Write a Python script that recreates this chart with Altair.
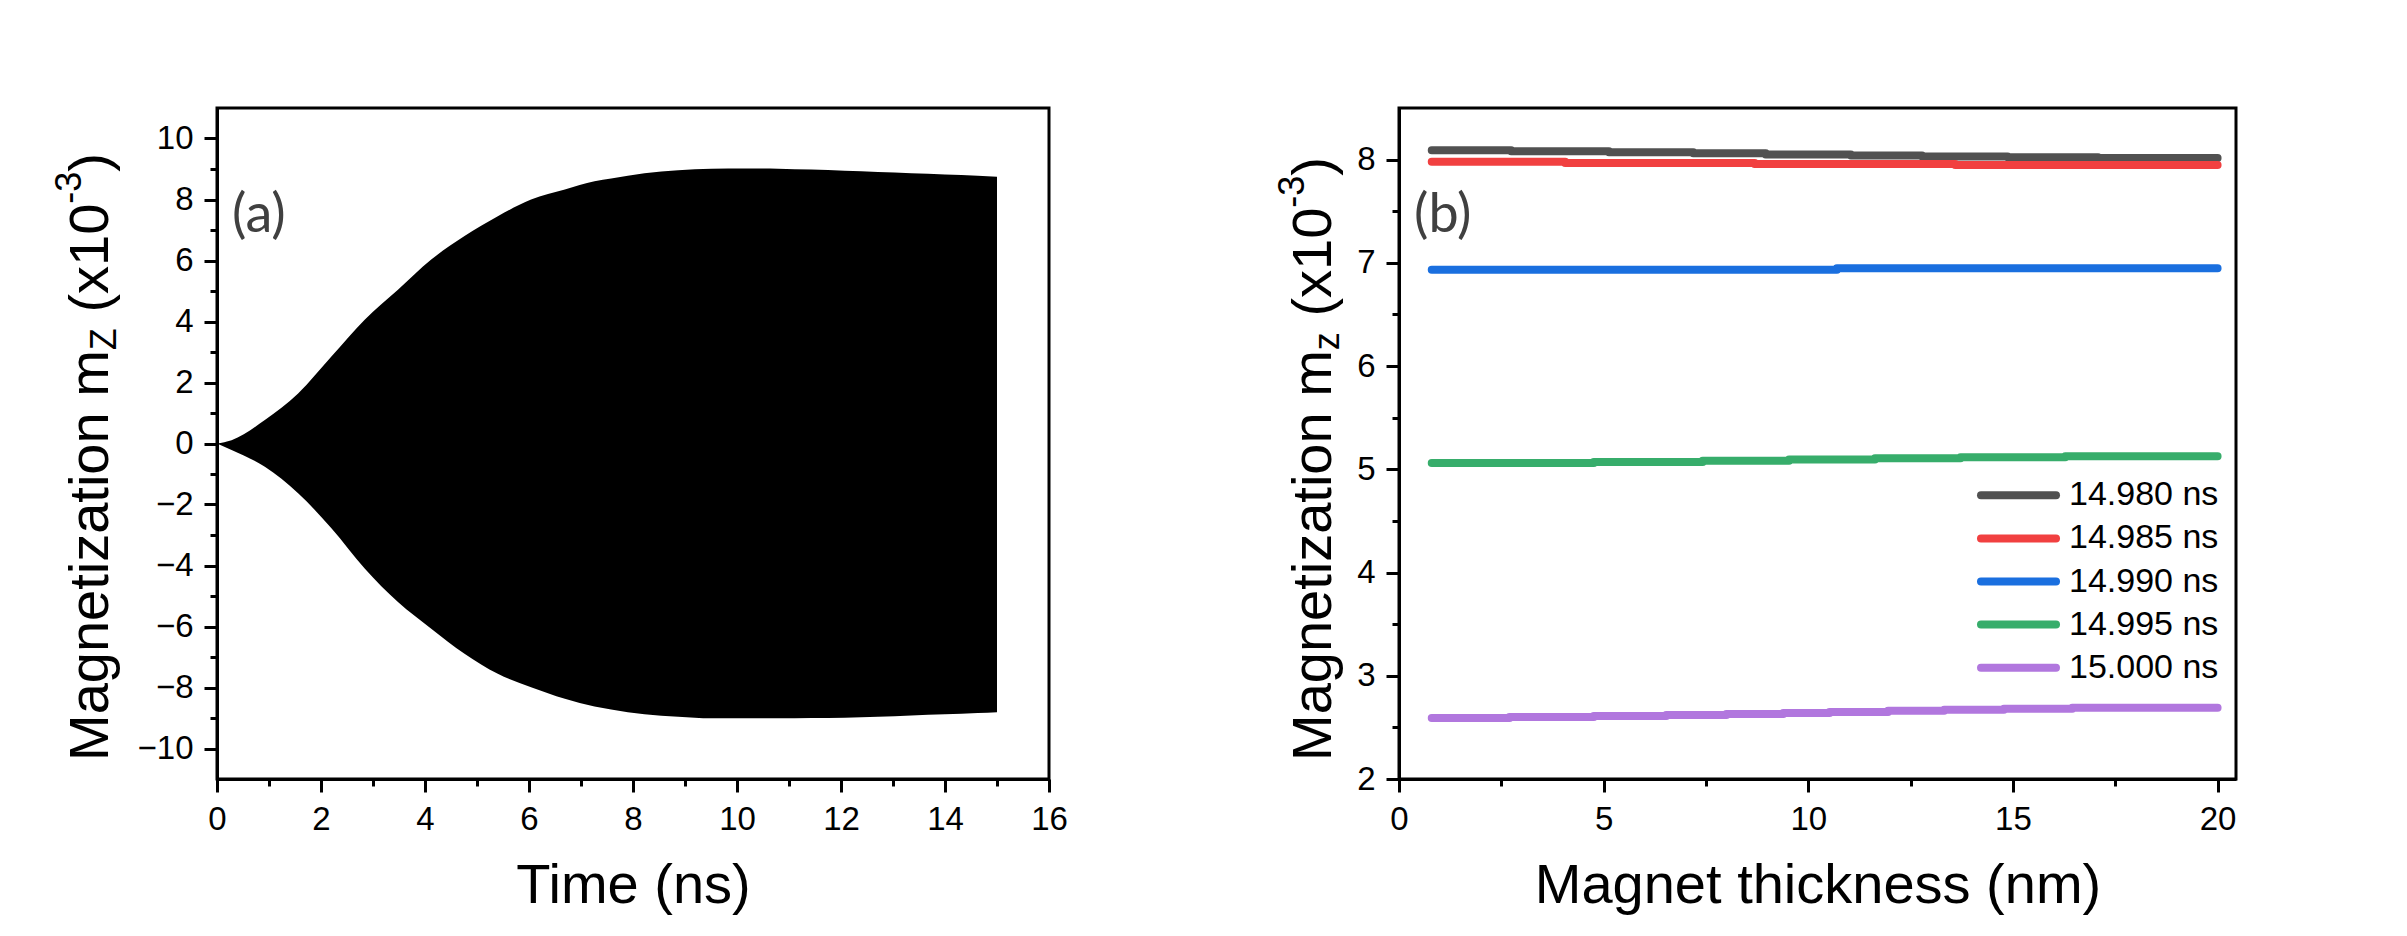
import altair as alt
import pandas as pd

FONT = "Liberation Sans"

# ---------------- Panel (a): envelope of the fast-oscillating m_z(t) trace (x10^-3)
time_ns = [0, 0.28, 0.92, 1.56, 2.2, 2.84, 3.48, 4.12, 4.76, 5.4, 6.04, 6.69, 7.26,
           7.58, 8.22, 8.87, 9.51, 10.15, 10.79, 11.43, 12.07, 12.71, 13.35, 14.0, 14.63, 15.0]
mz_upper = [0, 0.11, 0.77, 1.64, 2.85, 4.06, 5.04, 6.03, 6.8, 7.45, 8.0, 8.33, 8.6,
            8.69, 8.86, 8.96, 9.01, 9.02, 9.01, 8.98, 8.94, 8.9, 8.86, 8.82, 8.78, 8.75]
mz_lower = [0, -0.21, -0.76, -1.63, -2.78, -4.1, -5.2, -6.07, -6.89, -7.55, -7.99, -8.37, -8.62,
            -8.72, -8.88, -8.96, -9.01, -9.01, -9.01, -9.0, -8.99, -8.96, -8.92, -8.88, -8.84, -8.81]

# ---------------- Panel (b): m_z vs magnet thickness at five times
series_labels = ["14.980 ns", "14.985 ns", "14.990 ns", "14.995 ns", "15.000 ns"]
series_colors = ["#515151", "#F14040", "#1A6FDF", "#37AD6B", "#B177DE"]

thick_980 = [0.8, 2.74, 5.13, 7.19, 8.96, 11.04, 12.78, 14.87, 17.08, 20]
mz_980 = [8.09, 8.08, 8.071, 8.061, 8.049, 8.039, 8.029, 8.022, 8.016, 8.016]
thick_985 = [0.8, 4.06, 8.69, 13.59, 20]
mz_985 = [7.98, 7.968, 7.958, 7.948, 7.948]
thick_990 = [0.8, 10.7, 20]
mz_990 = [6.932, 6.948, 6.948]
thick_995 = [0.8, 4.76, 7.42, 9.53, 11.63, 13.72, 16.28, 20]
mz_995 = [5.061, 5.071, 5.084, 5.094, 5.107, 5.117, 5.126, 5.126]
thick_1000 = [0.8, 2.7, 4.76, 6.53, 8.0, 9.39, 10.52, 11.95, 13.32, 14.78, 16.45, 20]
mz_1000 = [2.59, 2.60, 2.61, 2.62, 2.63, 2.64, 2.65, 2.66, 2.67, 2.68, 2.69, 2.69]

# tick values
a_x_major = list(range(0, 17, 2))
a_x_minor = list(range(1, 16, 2))
a_y_major = list(range(-10, 11, 2))
a_y_minor = list(range(-9, 10, 2))
b_x_major = [0, 5, 10, 15, 20]
b_x_minor = [2.5, 7.5, 12.5, 17.5]
b_y_major = [2, 3, 4, 5, 6, 7, 8]
b_y_minor = [2.5, 3.5, 4.5, 5.5, 6.5, 7.5]

df_a = pd.DataFrame({"t": time_ns, "hi": mz_upper, "lo": mz_lower})
rows = []
for lab, xs, ys in zip(series_labels,
                       [thick_980, thick_985, thick_990, thick_995, thick_1000],
                       [mz_980, mz_985, mz_990, mz_995, mz_1000]):
    for xv, yv in zip(xs, ys):
        rows.append({"series": lab, "thickness": xv, "mz": yv})
df_b = pd.DataFrame(rows)
df_leg = pd.DataFrame({"series": series_labels, "idx": list(range(len(series_labels)))})
df_one = pd.DataFrame({"k": [0]})

TICK_FS = 33
color_scale = alt.Scale(domain=series_labels, range=series_colors)


def axis_major(values, title=None):
    return alt.Axis(values=values, title=title, labelFont=FONT, labelFontSize=TICK_FS,
                    labelColor="black", labelPadding=11, tickSize=13, tickWidth=3,
                    tickColor="black", domainWidth=3, domainColor="black", grid=False,
                    titleFont=FONT, titleFontSize=56, titleFontWeight="normal",
                    titleColor="black", titlePadding=22, labelOverlap=False, labelFlush=False)


def axis_minor(values, orient):
    return alt.Axis(values=values, orient=orient, labels=False, domain=False, tickSize=7,
                    tickWidth=3, tickColor="black", grid=False, title=None)


# Arial-metric advance widths (em) for composing the rotated y titles
W = {'M': .833, 'a': .556, 'g': .556, 'n': .556, 'e': .556, 't': .278, 'i': .222, 'z': .5,
     'o': .556, 'm': .833, 'Z': .611, '(': .333, 'x': .5, '1': .556,
     '0': .556, '-': .333, '3': .556, ')': .333}


def text_width(txt, fs):
    return sum(W.get(c, .278) for c in txt) * fs


def ytitle_layers(sub, base_x, y_start):
    # (text, font size, baseline shift, leading gap)
    pieces = [("Magnetization m", 56, 0, 0), (sub, 36, 8, 0), ("(x10", 56, 0, .278 * 56),
              ("-3", 36, -27, 0), (")", 56, 0, 0)]
    layers = []
    y = y_start
    for txt, fs, dx, gap in pieces:
        y -= gap
        layers.append(
            alt.Chart(df_one).mark_text(angle=270, align="left", baseline="alphabetic",
                                        font=FONT, fontSize=fs, color="black")
            .encode(x=alt.value(base_x + dx), y=alt.value(y), text=alt.value(txt))
        )
        y -= text_width(txt, fs)
    return layers


def panel_label(txt):
    return alt.Chart(df_one).mark_text(align="left", baseline="middle", font="Lato",
                                       fontSize=54, color="#404040").encode(
        x=alt.value(15), y=alt.value(108), text=alt.value(txt))


# ---------------- Panel (a)
area = alt.Chart(df_a).mark_area(color="black", interpolate="monotone").encode(
    x=alt.X("t:Q", scale=alt.Scale(domain=[0, 16], nice=False, zero=False),
            axis=axis_major(a_x_major, "Time (ns)")),
    y=alt.Y("hi:Q", scale=alt.Scale(domain=[-11, 11], nice=False, zero=False),
            axis=axis_major(a_y_major)),
    y2="lo:Q",
)
minor_a = alt.Chart(df_a).mark_point(opacity=0).encode(
    x=alt.X("t:Q", axis=axis_minor(a_x_minor, "bottom")),
    y=alt.Y("hi:Q", axis=axis_minor(a_y_minor, "left")),
)
panel_a = alt.layer(area, minor_a, panel_label("(a)"), *ytitle_layers("Z", -109, 653)).resolve_axis(
    x="independent", y="independent").properties(width=832, height=671)

# ---------------- Panel (b)
lines = alt.Chart(df_b).mark_line(strokeWidth=8, strokeCap="round", strokeJoin="round",
                                  interpolate="step-after").encode(
    x=alt.X("thickness:Q", scale=alt.Scale(domain=[0, 20.45], nice=False, zero=False),
            axis=axis_major(b_x_major, "Magnet thickness (nm)")),
    y=alt.Y("mz:Q", scale=alt.Scale(domain=[2, 8.5], nice=False, zero=False),
            axis=axis_major(b_y_major)),
    color=alt.Color("series:N", scale=color_scale, legend=None),
)
minor_b = alt.Chart(df_b).mark_point(opacity=0).encode(
    x=alt.X("thickness:Q", axis=axis_minor(b_x_minor, "bottom")),
    y=alt.Y("mz:Q", axis=axis_minor(b_y_minor, "left")),
)
# in-plot legend (lower right), rows laid out in pixel space
leg_base = alt.Chart(df_leg).transform_calculate(py="387.3 + 43.1 * datum.idx")
leg_sym = leg_base.mark_rule(strokeWidth=8, strokeCap="round").encode(
    x=alt.value(582), x2=alt.value(657), y=alt.Y("py:Q", scale=None),
    color=alt.Color("series:N", scale=color_scale, legend=None))
leg_txt = leg_base.mark_text(align="left", baseline="middle", font=FONT, fontSize=34,
                             color="black").encode(
    x=alt.value(670), y=alt.Y("py:Q", scale=None), text="series:N")

panel_b = alt.layer(lines, minor_b, leg_sym, leg_txt, panel_label("(b)"),
                    *ytitle_layers("z", -68, 653)).resolve_axis(
    x="independent", y="independent").properties(width=837, height=671)

chart = alt.hconcat(panel_a, panel_b, spacing=204).properties(
    padding={"left": 42, "top": 98, "right": 5, "bottom": 5}, background="white"
).configure(font=FONT).configure_view(stroke="black", strokeWidth=3)

chart.save("out.html", embed_options={"renderer": "svg", "actions": False})
